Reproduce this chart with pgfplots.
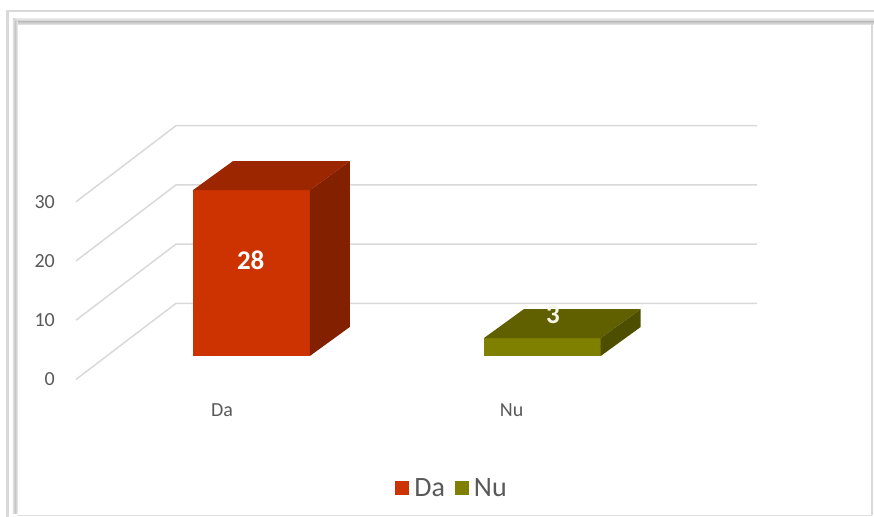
\documentclass[border=0pt]{standalone}
\usepackage{fontspec}
\setmainfont{Carlito}
\usepackage{pgfplots}
\pgfplotsset{compat=1.18}
\definecolor{txt}{HTML}{595959}
\definecolor{gridc}{HTML}{D9D9D9}
\definecolor{daF}{HTML}{CC3300}
\definecolor{daT}{HTML}{9C2600}
\definecolor{daS}{HTML}{822000}
\definecolor{nuF}{HTML}{808000}
\definecolor{nuT}{HTML}{606000}
\definecolor{nuS}{HTML}{4E4E00}
\tikzset{ticklab/.style={anchor=east, text=txt, font=\fontsize{20bp}{24bp}\selectfont, inner sep=0pt},
  catlab/.style={anchor=base, text=txt, font=\fontsize{20bp}{24bp}\selectfont, inner sep=0pt}}
\begin{document}
\begin{tikzpicture}
\begin{axis}[
  scale only axis, width=874bp, height=517bp,
  xmin=0, xmax=874, ymin=-27.196, ymax=60.135,
  hide axis, clip=false,
  legend style={at={(axis cs:452,-22.3)}, anchor=center, draw=none, fill=none,
    legend columns=-1, font=\fontsize{28bp}{32bp}\selectfont, text=txt,
    /tikz/every odd column/.append style={column sep=3bp},
    /tikz/every even column/.append style={column sep=8bp}},
  legend image code/.code={\fill[#1] (0bp,-7bp) rectangle (14bp,7bp);},
]
% gridlines (3-D side wall and back wall)
\addplot[gridc, line width=1.5bp, forget plot] coordinates {(76,-3.95) (176,8.9) (757,8.9)};
\addplot[gridc, line width=1.5bp, forget plot] coordinates {(76,6.05) (176,18.9) (757,18.9)};
\addplot[gridc, line width=1.5bp, forget plot] coordinates {(76,16.05) (176,28.9) (757,28.9)};
\addplot[gridc, line width=1.5bp, forget plot] coordinates {(76,26.05) (176,38.9) (757,38.9)};
% bars: front faces
\addplot[ybar, bar width=117, bar shift=0pt, fill=daF, draw=none] coordinates {(251.3,28)};
\addlegendentry{Da}
\addplot[ybar, bar width=117, bar shift=0pt, fill=nuF, draw=none] coordinates {(542.2,3)};
\addlegendentry{Nu}
% top and side faces
\addplot[fill=daT, draw=none, forget plot] coordinates {(192.8,28) (309.8,28) (349.8,32.9) (232.8,32.9) (192.8,28)};
\addplot[fill=daS, draw=none, forget plot] coordinates {(309.8,0) (349.8,4.9) (349.8,32.9) (309.8,28) (309.8,0)};
\addplot[fill=nuT, draw=none, forget plot] coordinates {(483.7,3) (600.7,3) (640.7,7.9) (523.7,7.9) (483.7,3)};
\addplot[fill=nuS, draw=none, forget plot] coordinates {(600.7,0) (640.7,4.9) (640.7,7.9) (600.7,3) (600.7,0)};
% value labels
\node[text=white, font=\fontsize{27bp}{30bp}\selectfont\bfseries] at (axis cs:250.7,16.1) {28};
\node[text=white!92!nuF, font=\fontsize{27bp}{30bp}\selectfont\bfseries] at (axis cs:553,6.9) {3};
% y tick labels
\node[ticklab] at (axis cs:55,-3.95) {0};
\node[ticklab] at (axis cs:55,6.05) {10};
\node[ticklab] at (axis cs:55,16.05) {20};
\node[ticklab] at (axis cs:55,26.05) {30};
% category labels
\node[catlab] at (axis cs:222,-10.3) {Da};
\node[catlab] at (axis cs:511.7,-10.3) {Nu};
\end{axis}
\begin{scope}[shift={(current axis.north west)}, x=1bp, y=-1bp]
  \draw[color=gridc, line width=2bp] (7.5,517) -- (7.5,11.5) -- (874,11.5);
  \shade[top color=gray!20, bottom color=gray!45] (13,18.5) rectangle (874,22);
  \shade[top color=gray!45, bottom color=gray!15] (17,22) rectangle (874,25);
  \shade[left color=gray!20, right color=gray!45] (12.5,18.5) rectangle (15,514);
  \shade[left color=gray!45, right color=gray!15] (15,22) rectangle (17.5,514);
  \draw[color=gridc, line width=2bp] (872,24) -- (872,515.5);
  \draw[color=gridc!80, line width=1.5bp] (17,515.5) -- (872,515.5);
\end{scope}
\pgfresetboundingbox
\useasboundingbox (current axis.south west) rectangle (current axis.north east);
\end{tikzpicture}
\end{document}
